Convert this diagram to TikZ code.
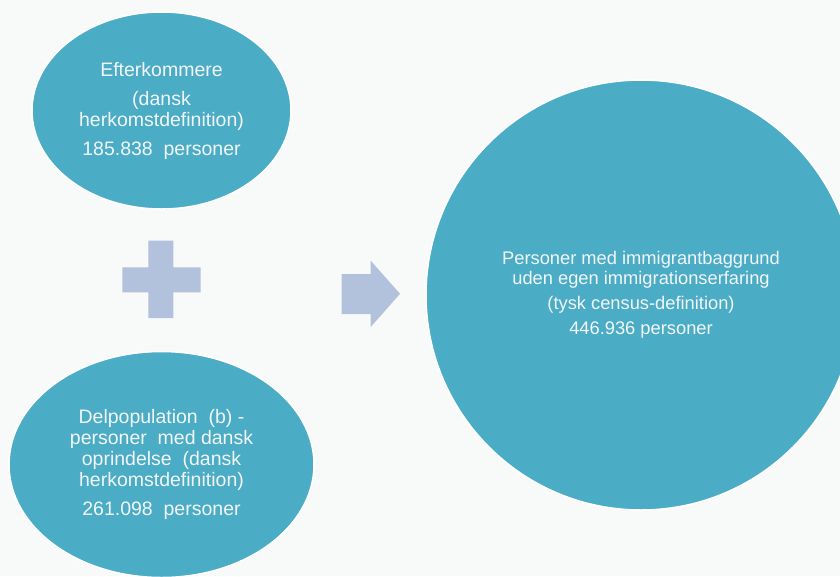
\documentclass[tikz,border=0pt]{standalone}
\usepackage{fontspec}
\setmainfont{Liberation Sans}
\usetikzlibrary{shapes.geometric}
\definecolor{bg}{HTML}{F8FAFA}
\definecolor{teal}{HTML}{4BACC6}
\definecolor{pale}{HTML}{B2C1DC}
\definecolor{txt}{HTML}{F2F6F8}
\begin{document}
\begin{tikzpicture}[x=1pt,y=-1pt,
  blob/.style={ellipse, fill=teal, draw=white, line width=1.5pt, inner sep=0pt, text=txt, align=center},
  sym/.style={fill=pale, draw=none}]
\fill[bg] (0,0) rectangle (840,576);
\useasboundingbox (0,0) rectangle (840,576);
% top ellipse
\node[blob, minimum width=259pt, minimum height=197pt,
  font=\fontsize{19.5}{21}\selectfont] (top) at (161.5,110.5)
  {Efterkommere\\[8pt] (dansk\\ herkomstdefinition)\\[8pt] 185.838\ \ personer};
% bottom ellipse
\node[blob, minimum width=305pt, minimum height=226pt,
  font=\fontsize{19.5}{21}\selectfont] (bot) at (161.5,464.5)
  {Delpopulation\ \ (b) -\\ personer\ \ med dansk\\ oprindelse\ \ (dansk\\ herkomstdefinition)\\[8pt] 261.098\ \ personer};
% right circle
\node[blob, minimum width=430pt, minimum height=430pt,
  font=\fontsize{18.3}{20}\selectfont] (res) at (641,295)
  {Personer med immigrantbaggrund\\ uden egen immigrationserfaring\\[5pt] (tysk census-definition)\\[5pt] 446.936 personer};
% plus
\fill[sym] (148.3,240.7) -- (173.3,240.7) -- (173.3,267.3) -- (200.7,267.3) -- (200.7,292.3)
  -- (173.3,292.3) -- (173.3,318) -- (148.3,318) -- (148.3,292.3) -- (122.3,292.3)
  -- (122.3,267.3) -- (148.3,267.3) -- cycle;
% arrow
\fill[sym] (341.7,274) -- (370.7,274) -- (370.7,260.7) -- (400,293.8) -- (370.7,327)
  -- (370.7,314) -- (341.7,314) -- cycle;
\end{tikzpicture}
\end{document}
